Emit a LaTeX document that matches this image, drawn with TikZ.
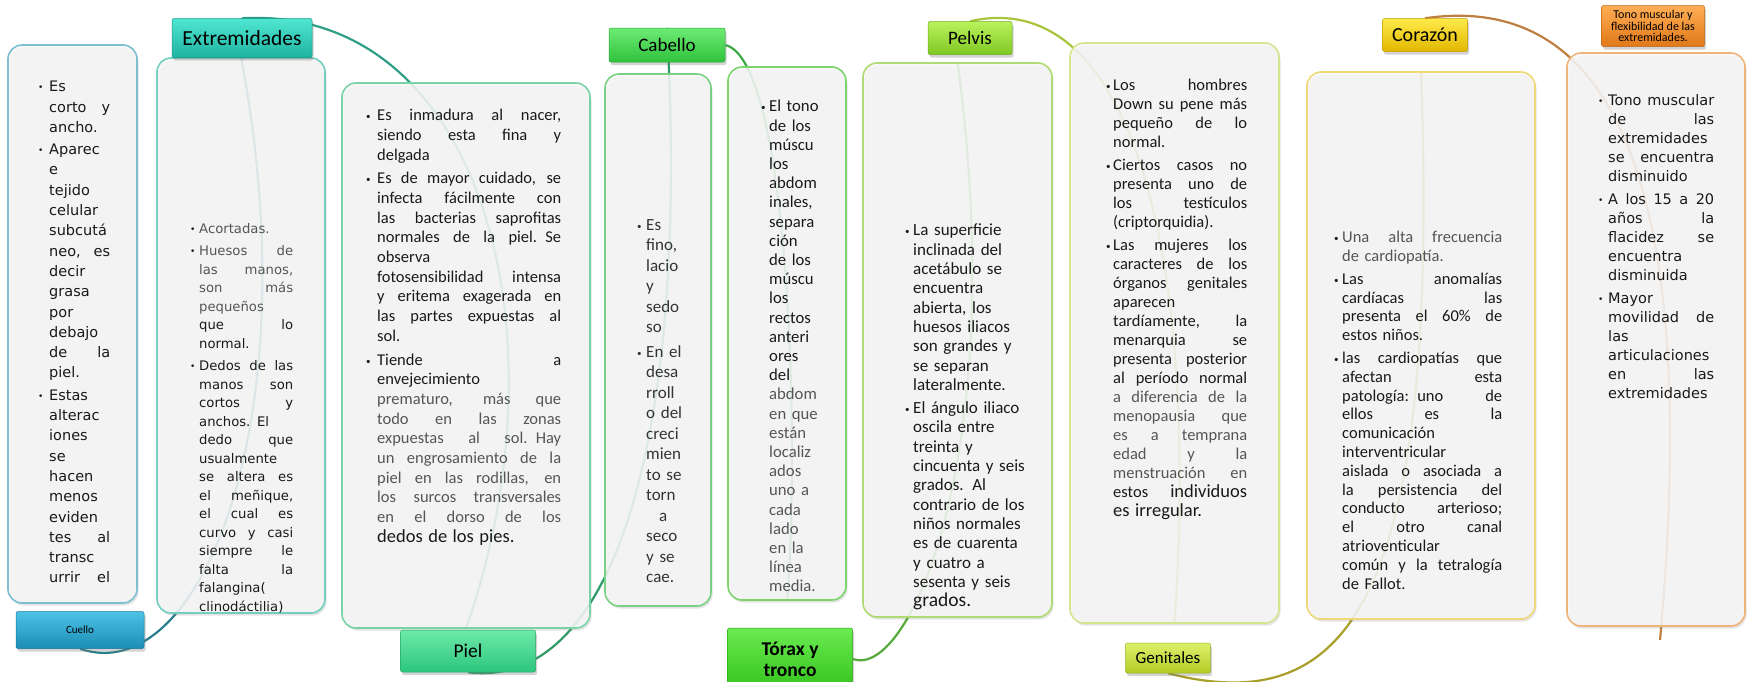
\documentclass[tikz,border=0pt]{standalone}
\usepackage{fontspec}
\setmainfont{Carlito}
\newfontfamily\verdfont{DejaVu Sans}
\usetikzlibrary{shadows,fit}
\pgfdeclarelayer{arcs}
\pgfdeclarelayer{panels}
\pgfsetlayers{arcs,panels,main}
\newlength{\bulw}
\newlength{\colw}
% colours of the panels, tags and arcs
\definecolor{panelBg}{HTML}{F7F7F7}
\definecolor{txtGrey}{HTML}{555555}
\definecolor{cuB}{HTML}{7DBFCF}\definecolor{cuT}{HTML}{4CC3E6}\definecolor{cuD}{HTML}{1B8DB6}
\definecolor{exB}{HTML}{72CFC0}\definecolor{exT}{HTML}{4FE6D2}\definecolor{exD}{HTML}{1DB3A0}
\definecolor{piB}{HTML}{7AD3A6}\definecolor{piT}{HTML}{6EEAA8}\definecolor{piD}{HTML}{2CC67E}
\definecolor{cbB}{HTML}{79D283}\definecolor{cbT}{HTML}{6EEB74}\definecolor{cbD}{HTML}{2FC23C}
\definecolor{txB}{HTML}{7ED46C}\definecolor{txT}{HTML}{6BEB50}\definecolor{txD}{HTML}{34C21E}
\definecolor{peB}{HTML}{AEDB72}\definecolor{peT}{HTML}{B9F25A}\definecolor{peD}{HTML}{80C824}
\definecolor{geB}{HTML}{D2E68E}\definecolor{geT}{HTML}{DDF06A}\definecolor{geD}{HTML}{B3CC24}
\definecolor{coB}{HTML}{EFD877}\definecolor{coT}{HTML}{FFEA4A}\definecolor{coD}{HTML}{E2B800}
\definecolor{toB}{HTML}{EFB47A}\definecolor{toT}{HTML}{FFAE55}\definecolor{toD}{HTML}{E07818}
\definecolor{lnA}{HTML}{2B7E8C}\definecolor{lnB}{HTML}{2E9E86}\definecolor{lnC}{HTML}{2E9A66}
\definecolor{lnD}{HTML}{3BAA46}\definecolor{lnE}{HTML}{56A83A}\definecolor{lnF}{HTML}{A8C43C}
\definecolor{lnG}{HTML}{A89E28}\definecolor{lnH}{HTML}{BF7E42}
\begin{document}
\begin{tikzpicture}[x=1pt,y=-1pt,
  panel/.style={draw=#1, line width=1.6pt, rounded corners=14pt, fill=panelBg, fill opacity=0.86, inner sep=0pt,
    drop shadow={opacity=0.22,shadow xshift=1.5pt,shadow yshift=-2.5pt}},
  tag/.style 2 args={top color=#1, bottom color=#2, draw=#2!85!black, line width=0.5pt, rounded corners=2pt,
    inner sep=0pt, align=center, text=black, drop shadow={opacity=0.35,shadow xshift=1.5pt,shadow yshift=-3pt}},
  txt/.style={inner sep=0pt, anchor=north west, text=black!90},
  link/.style={draw=#1, line width=2.2pt}]
\newcommand{\bulMark}{\makebox[\bulw][l]{\raisebox{1pt}{\fontsize{9}{9}\selectfont\textbullet}}}
\newcommand{\jbox}[1]{\hbox to\colw{\spaceskip=0.25em plus 1fil\relax#1}}
\newcommand{\bulJ}[1]{\bulMark\jbox{#1}\\}
\newcommand{\bulL}[1]{\bulMark\mbox{#1}\\}
\newcommand{\bulE}[1]{\bulMark\mbox{#1}\par}
\newcommand{\linJ}[1]{\hspace*{\bulw}\jbox{#1}\\}
\newcommand{\linL}[1]{\hspace*{\bulw}\mbox{#1}\\}
\newcommand{\finL}[1]{\hspace*{\bulw}\mbox{#1}\par}
\newcommand{\finJ}[1]{\hspace*{\bulw}\jbox{#1}\par}
%Page frame
\useasboundingbox (0,0) rectangle (1748,681);
%Tags of the themes
\node[tag={cuT}{cuD}, minimum width=128, minimum height=37, font=\fontsize{11}{12}\selectfont] (cuL) at (80,630) {Cuello};
\node[tag={exT}{exD}, minimum width=140, minimum height=39, font=\fontsize{21.5}{22}\selectfont] (exL) at (242,38) {Extremidades};
\node[tag={piT}{piD}, minimum width=135, minimum height=42, font=\fontsize{19.5}{20}\selectfont] (piL) at (468,651) {Piel};
\node[tag={cbT}{cbD}, minimum width=116, minimum height=34, font=\fontsize{19}{20}\selectfont] (cbL) at (667,45) {Cabello};
\node[tag={txT}{txD}, minimum width=125, minimum height=62, font=\bfseries\fontsize{19.5}{21}\selectfont] (txL) at (790,659) {Tórax y\\tronco};
\node[tag={peT}{peD}, minimum width=84, minimum height=33, font=\fontsize{19}{20}\selectfont] (peL) at (970,38) {Pelvis};
\node[tag={geT}{geD}, minimum width=85, minimum height=30, font=\fontsize{17}{18}\selectfont] (geL) at (1168,658) {Genitales};
\node[tag={coT}{coD}, minimum width=85, minimum height=33, font=\fontsize{20}{21}\selectfont] (coL) at (1425,35) {Corazón};
\node[tag={toT}{toD}, minimum width=103, minimum height=41, font=\fontsize{12}{11.5}\selectfont] (toL) at (1653,26) {Tono muscular y\\flexibilidad de las\\extremidades.};
\coordinate (toEnd) at (1660,640);
\begin{pgfonlayer}{panels}
%Panels
\node[panel=cuB, fit={(8,45) (137,603)}] (cuP) {};
\node[panel=exB, fit={(157,58) (325,613)}] (exP) {};
\node[panel=piB, fit={(342,83) (590,628)}] (piP) {};
\node[panel=cbB, fit={(605,74) (711,606)}] (cbP) {};
\node[panel=txB, fit={(728,67) (846,600)}] (txP) {};
\node[panel=peB, fit={(863,63) (1052,617)}] (peP) {};
\node[panel=geB, fit={(1070,43) (1279,623)}] (geP) {};
\node[panel=coB, fit={(1307,72) (1535,619)}] (coP) {};
\node[panel=toB, fit={(1567,53) (1745,626)}] (toP) {};
%Texts of the panels
%Cuello
\begin{scope}
\clip[rounded corners=14pt] (cuP.north west) rectangle (cuP.south east);
\node[txt, text width=90, font=\verdfont\fontsize{14.5}{20.3}\selectfont] (cuX) at (38,81) {%
\setlength{\bulw}{11pt}\setlength{\colw}{61pt}\setlength{\parskip}{2pt}%
\bulL{Es}
\linJ{corto y}
\finL{ancho.}
\bulL{Aparec}
\linL{e}
\linL{tejido}
\linL{celular}
\linL{subcutá}
\linJ{neo, es}
\linL{decir}
\linL{grasa}
\linL{por}
\linL{debajo}
\linJ{de la}
\finL{piel.}
\bulL{Estas}
\linL{alterac}
\linL{iones}
\linL{se}
\linL{hacen}
\linL{menos}
\linL{eviden}
\linJ{tes al}
\linL{transc}
\finJ{urrir el}};
\end{scope}
%Extremidades
\node[txt, text width=130, font=\verdfont\fontsize{13.2}{18.5}\selectfont] (exX) at (190,223) {%
\setlength{\bulw}{9pt}\setlength{\colw}{94pt}\setlength{\parskip}{4pt}%
\bulE{\textcolor{txtGrey}{Acortadas.}}
\bulJ{\textcolor{txtGrey}{Huesos de}}
\linJ{\textcolor{txtGrey}{las manos,}}
\linJ{\textcolor{txtGrey}{son más}}
\linL{\textcolor{txtGrey}{pequeños}}
\linJ{que lo}
\finL{normal.}
\bulJ{Dedos de las}
\linJ{manos son}
\linJ{cortos y}
\linJ{anchos. El}
\linJ{dedo que}
\linL{usualmente}
\linJ{se altera es}
\linJ{el meñique,}
\linJ{el cual es}
\linJ{curvo y casi}
\linJ{siempre le}
\linJ{falta la}
\linL{falangina(}
\finL{clinodáctilia)}};
%Piel
\node[txt, text width=220, font=\fontsize{16.5}{19.7}\selectfont] (piX) at (366,109) {%
\setlength{\bulw}{11pt}\setlength{\colw}{184pt}\setlength{\parskip}{4pt}%
\bulJ{Es inmadura al nacer,}
\linJ{siendo esta fina y}
\finL{delgada}
\bulJ{Es de mayor cuidado, se}
\linJ{infecta fácilmente con}
\linJ{las bacterias saprofitas}
\linJ{normales de la piel. Se}
\linL{observa}
\linJ{fotosensibilidad intensa}
\linJ{y eritema exagerada en}
\linJ{las partes expuestas al}
\finL{sol.}
\bulJ{Tiende a}
\linL{envejecimiento}
\linJ{\textcolor{txtGrey}{prematuro, más que}}
\linJ{\textcolor{txtGrey}{todo en las zonas}}
\linJ{\textcolor{txtGrey}{expuestas al sol. Hay}}
\linJ{\textcolor{txtGrey}{un engrosamiento de la}}
\linJ{\textcolor{txtGrey}{piel en las rodillas, en}}
\linJ{\textcolor{txtGrey}{los surcos transversales}}
\linJ{\textcolor{txtGrey}{en el dorso de los}}
\finL{\fontsize{18.5}{19.7}\selectfont dedos de los pies.}};
%Cabello
\node[txt, text width=70, text=black!80, font=\fontsize{17}{20.5}\selectfont] (cbX) at (637,219) {%
\setlength{\bulw}{9pt}\setlength{\colw}{34pt}\setlength{\parskip}{4pt}%
\bulL{Es}
\linL{fino,}
\linL{lacio}
\linL{y}
\linL{sedo}
\finL{so}
\bulL{En el}
\linL{desa}
\linL{rroll}
\linL{o del}
\linL{creci}
\linL{mien}
\linL{to se}
\linL{torn}
\linL{\makebox[\colw]{a}}
\linL{seco}
\linL{y se}
\finL{cae.}};
%Torax y tronco
\node[txt, text width=90, font=\fontsize{16.7}{19.2}\selectfont] (txX) at (761,100) {%
\setlength{\bulw}{8pt}\setlength{\colw}{50pt}%
\bulL{El tono}
\linL{de los}
\linL{múscu}
\linL{los}
\linL{abdom}
\linL{inales,}
\linL{separa}
\linL{ción}
\linL{de los}
\linL{múscu}
\linL{los}
\linL{rectos}
\linL{anteri}
\linL{ores}
\linL{del}
\linL{\textcolor{txtGrey}{abdom}}
\linL{\textcolor{txtGrey}{en que}}
\linL{\textcolor{txtGrey}{están}}
\linL{\textcolor{txtGrey}{localiz}}
\linL{\textcolor{txtGrey}{ados}}
\linL{\textcolor{txtGrey}{uno a}}
\linL{\textcolor{txtGrey}{cada}}
\linL{\textcolor{txtGrey}{lado}}
\linL{\textcolor{txtGrey}{en la}}
\linL{\textcolor{txtGrey}{línea}}
\finL{\textcolor{txtGrey}{media.}}};
%Pelvis
\node[txt, text width=150, font=\fontsize{17}{19.3}\selectfont] (peX) at (905,224) {%
\setlength{\bulw}{8pt}\setlength{\colw}{110pt}\setlength{\parskip}{4pt}%
\bulL{La superficie}
\linL{inclinada del}
\linL{acetábulo se}
\linL{encuentra}
\linL{abierta, los}
\linL{huesos iliacos}
\linL{son grandes y}
\linL{se separan}
\finL{lateralmente.}
\bulL{El ángulo iliaco}
\linL{oscila entre}
\linL{treinta y}
\linL{cincuenta y seis}
\linL{grados. Al}
\linL{contrario de los}
\linL{niños normales}
\linL{es de cuarenta}
\linL{y cuatro a}
\linL{sesenta y seis}
\finL{\fontsize{19.5}{19.3}\selectfont grados.}};
%Genitales
\node[txt, text width=170, font=\fontsize{16.5}{19}\selectfont] (geX) at (1106,79) {%
\setlength{\bulw}{7pt}\setlength{\colw}{134pt}\setlength{\parskip}{4pt}%
\bulJ{Los hombres}
\linJ{Down su pene más}
\linJ{pequeño de lo}
\finL{normal.}
\bulJ{Ciertos casos no}
\linJ{presenta uno de}
\linJ{los testículos}
\finL{(criptorquidia).}
\bulJ{Las mujeres los}
\linJ{caracteres de los}
\linJ{órganos genitales}
\linL{aparecen}
\linJ{tardíamente, la}
\linJ{menarquia se}
\linJ{presenta posterior}
\linJ{al período normal}
\linJ{\textcolor{txtGrey}{a diferencia de la}}
\linJ{\textcolor{txtGrey}{menopausia que}}
\linJ{\textcolor{txtGrey}{es a temprana}}
\linJ{\textcolor{txtGrey}{edad y la}}
\linJ{\textcolor{txtGrey}{menstruación en}}
\linJ{estos {\fontsize{18.5}{19}\selectfont individuos}}
\finL{\fontsize{18.5}{19}\selectfont es irregular.}};
%Corazon
\node[txt, text width=200, font=\fontsize{16.5}{18.8}\selectfont] (coX) at (1334,231) {%
\setlength{\bulw}{8pt}\setlength{\colw}{160pt}\setlength{\parskip}{4pt}%
\bulJ{\textcolor{txtGrey}{Una alta frecuencia}}
\finL{\textcolor{txtGrey}{de cardiopatía.}}
\bulJ{Las anomalías}
\linJ{cardíacas las}
\linJ{presenta el 60\% de}
\finL{estos niños.}
\bulJ{las cardiopatías que}
\linJ{afectan esta}
\linJ{patología: uno de}
\linJ{ellos es la}
\linL{comunicación}
\linL{interventricular}
\linJ{aislada o asociada a}
\linJ{la persistencia del}
\linJ{conducto arterioso;}
\linJ{el otro canal}
\linL{atrioventicular}
\linJ{común y la tetralogía}
\finL{de Fallot.}};
%Tono muscular
\node[txt, text width=150, font=\verdfont\fontsize{14.5}{19}\selectfont] (toX) at (1598,94) {%
\setlength{\bulw}{10pt}\setlength{\colw}{106pt}\setlength{\parskip}{4pt}%
\bulJ{Tono muscular}
\linJ{de las}
\linL{extremidades}
\linJ{se encuentra}
\finL{disminuido}
\bulJ{A los 15 a 20}
\linJ{años la}
\linJ{flacidez se}
\linL{encuentra}
\finL{disminuida}
\bulL{Mayor}
\linJ{movilidad de}
\linL{las}
\linL{articulaciones}
\linJ{en las}
\finL{extremidades}};
\end{pgfonlayer}
%Arcs from tag to panel
\begin{pgfonlayer}{arcs}
\draw[link=lnA] (cuL.south) .. controls (200,690) and (310,420) .. (exP.north);
\draw[link=lnB] (exL.north) .. controls (480,5) and (570,330) .. (piP.south);
\draw[link=lnC] (piL.south) .. controls (610,690) and (690,450) .. (cbL.north);
\draw[link=lnD] (cbL.east) .. controls (790,60) and (800,450) .. (txP.south);
\draw[link=lnE] (txL.east) .. controls (910,680) and (1010,450) .. (peP.north);
\draw[link=lnF] (peL.north) .. controls (1130,-15) and (1200,250) .. (geP.south);
\draw[link=lnG] (geL.south) .. controls (1350,720) and (1440,600) .. (coP.north);
\draw[link=lnH] (coL.north) .. controls (1620,-10) and (1700,200) .. (toEnd);
\end{pgfonlayer}
\end{tikzpicture}
\end{document}
